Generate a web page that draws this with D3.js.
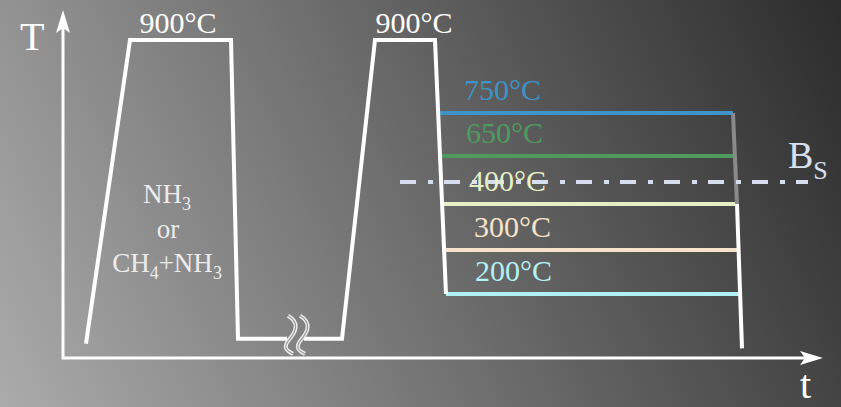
<!DOCTYPE html>
<html>
<head>
<meta charset="utf-8">
<script src="https://cdn.jsdelivr.net/npm/d3@7"></script>
<style>
  html, body { margin: 0; padding: 0; background: #777; }
  svg { display: block; }
</style>
</head>
<body>
<svg id="chart" width="841" height="407" font-family="'Liberation Serif', 'Times New Roman', serif"></svg>
<script>
// Heat-treatment schedule: nitriding / carbonitriding at 900°C, reheat to
// 900°C, then isothermal holds at five temperatures and a final quench.
// Time is in arbitrary units; the temperature axis is schematic (broken).

// time axis extent (arbitrary units) and top of the T axis
var T_END = 760;
var TEMP_TOP = 960;

// schematic temperature axis: breakpoints of the broken scale
var tempBreaks = [0, 200, 300, 400, 650, 750, 900];

// first cycle (gas treatment) and the reheat, split by the time break
var cycle1 = [[23, 45], [67, 900], [168, 900], [175, 60], [224, 60]];
var cycle2 = [[241, 60], [279, 60], [312, 900], [372, 900], [383, 200]];
var breakAt = [232, 60];

// isothermal holds
var holdTemps  = [750, 650, 400, 300, 200];
var holdLabels = ['750°C', '650°C', '400°C', '300°C', '200°C'];
var holdStart  = [375, 377, 380, 382, 383];
var holdEnd    = [670, 672, 674, 675, 677];
var holdColors = ['#3f93c6', '#4f9a5f', '#e6efc6', '#f7e3c9', '#b2f1f3'];

// final quench: grey above B_s region, white below
var quenchUpper = [[670, 750], [674, 400]];
var quenchLower = [[674, 400], [679, 30]];

// bainite start line
var bsTemp = 515;
var bsSpan = [337, 745];

// plateau labels
var peakLabels = ['900°C', '900°C'];
var peakLabelT = [115, 351];

(function () {
    var W = 841, H = 407;
    var svg = d3.select('#chart');

    var x = d3.scaleLinear().domain([0, T_END]).range([63, 823]);
    var y = d3.scaleLinear().domain(tempBreaks.concat([TEMP_TOP]))
        .range([358, 294, 250, 204, 156, 113, 40, 10]);

    // Background: diagonal grey gradient, light bottom-left to dark top-right
    var defs = svg.append('defs');
    var grad = defs.append('linearGradient')
        .attr('id', 'bg')
        .attr('gradientUnits', 'userSpaceOnUse')
        .attr('x1', 0).attr('y1', H).attr('x2', W).attr('y2', 0);
    grad.append('stop').attr('offset', 0).attr('stop-color', '#ababab');
    grad.append('stop').attr('offset', 1).attr('stop-color', '#2c2c2c');
    svg.append('rect').attr('width', W).attr('height', H).attr('fill', 'url(#bg)');

    var line = d3.line()
        .x(function (d) { return x(d[0]); })
        .y(function (d) { return y(d[1]); });

    // Axes with swept arrowheads
    var x0 = x(0), y0 = y(0), xe = x(T_END), ye = y(TEMP_TOP);
    svg.append('path')
        .attr('d', 'M' + x0 + ',' + (ye + 10) + 'L' + x0 + ',' + y0 + 'L' + (xe - 10) + ',' + y0)
        .attr('fill', 'none').attr('stroke', '#fff').attr('stroke-width', 3);
    svg.append('path')
        .attr('d', 'M' + xe + ',' + y0 + 'L' + (xe - 23) + ',' + (y0 - 7) + 'L' + (xe - 18) + ',' + y0 +
                   'L' + (xe - 23) + ',' + (y0 + 7) + 'Z')
        .attr('fill', '#fff');
    svg.append('path')
        .attr('d', 'M' + x0 + ',' + ye + 'L' + (x0 - 7) + ',' + (ye + 23) + 'L' + x0 + ',' + (ye + 18) +
                   'L' + (x0 + 7) + ',' + (ye + 23) + 'Z')
        .attr('fill', '#fff');

    svg.append('text').attr('x', 20).attr('y', 50)
        .attr('font-size', 40).attr('fill', '#fff').text('T');
    svg.append('text').attr('x', 800).attr('y', 398)
        .attr('font-size', 40).attr('fill', '#fff').text('t');

    // Isothermal hold lines
    holdTemps.forEach(function (T, i) {
        svg.append('line')
            .attr('x1', x(holdStart[i])).attr('x2', x(holdEnd[i]))
            .attr('y1', y(T)).attr('y2', y(T))
            .attr('stroke', holdColors[i]).attr('stroke-width', 4);
    });

    // Final quench
    svg.append('path').datum(quenchUpper).attr('d', line)
        .attr('fill', 'none').attr('stroke', '#8a8a8a').attr('stroke-width', 4);
    svg.append('path').datum(quenchLower).attr('d', line)
        .attr('fill', 'none').attr('stroke', '#fff').attr('stroke-width', 4);

    // Thermal cycles
    [cycle1, cycle2].forEach(function (seg) {
        svg.append('path').datum(seg).attr('d', line)
            .attr('fill', 'none').attr('stroke', '#fff')
            .attr('stroke-width', 4).attr('stroke-linejoin', 'miter');
    });

    // Time break: two wavy tubes
    var bx = x(breakAt[0]), by = y(breakAt[1]);
    [-7, 5].forEach(function (dx) {
        var p = 'M' + (bx + dx) + ',' + (by - 23) +
                'C' + (bx + dx + 12) + ',' + (by - 16) + ' ' + (bx + dx + 8) + ',' + (by - 7) + ' ' + (bx + dx + 1) + ',' + (by + 1) +
                'C' + (bx + dx - 5) + ',' + (by + 8) + ' ' + (bx + dx - 2) + ',' + (by + 12) + ' ' + (bx + dx + 5) + ',' + (by + 15);
        svg.append('path').attr('d', p).attr('fill', 'none')
            .attr('stroke', '#eee').attr('stroke-width', 4);
        svg.append('path').attr('d', p).attr('fill', 'none')
            .attr('stroke', '#9a9a9a').attr('stroke-width', 1.2);
    });

    // B_s dash-dot line
    svg.append('line')
        .attr('x1', x(bsSpan[0])).attr('x2', x(bsSpan[1]))
        .attr('y1', y(bsTemp)).attr('y2', y(bsTemp))
        .attr('stroke', '#d5ddef').attr('stroke-width', 4)
        .attr('stroke-dasharray', '16 12 5 11');
    var bs = svg.append('text')
        .attr('x', x(bsSpan[1]) - 20).attr('y', y(bsTemp) - 14)
        .attr('fill', '#d8e0f1').attr('font-size', 38);
    bs.append('tspan').text('B');
    bs.append('tspan').attr('font-size', 26).attr('dy', 11).text('S');

    // Temperature labels
    peakLabels.forEach(function (s, i) {
        svg.append('text')
            .attr('x', x(peakLabelT[i])).attr('y', y(900) - 7)
            .attr('text-anchor', 'middle')
            .attr('font-size', 30).attr('fill', '#fff').text(s);
    });
    holdLabels.forEach(function (s, i) {
        svg.append('text')
            .attr('x', x(holdStart[i]) + 26 + (i > 2 ? 3 : 0)).attr('y', y(holdTemps[i]) - 13)
            .attr('font-size', 30).attr('fill', holdColors[i]).text(s);
    });

    // Gas label
    var gas = svg.append('g').attr('fill', '#ececec').attr('font-size', 27)
        .attr('text-anchor', 'middle');
    var t1 = gas.append('text').attr('x', 167).attr('y', 203);
    t1.append('tspan').text('NH');
    t1.append('tspan').attr('font-size', 18).attr('dy', 7).text('3');
    gas.append('text').attr('x', 168).attr('y', 238).text('or');
    var t3 = gas.append('text').attr('x', 167).attr('y', 272);
    t3.append('tspan').text('CH');
    t3.append('tspan').attr('font-size', 18).attr('dy', 7).text('4');
    t3.append('tspan').attr('dy', -7).text('+NH');
    t3.append('tspan').attr('font-size', 18).attr('dy', 7).text('3');
})();
</script>
</body>
</html>
